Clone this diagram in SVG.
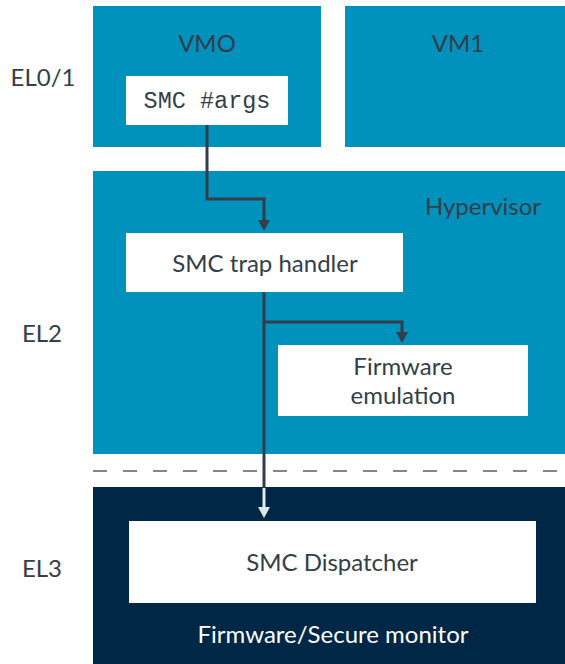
<svg xmlns="http://www.w3.org/2000/svg" width="565" height="664" viewBox="0 0 565 664">
<style>
.blue{fill:#0091bd}
.navy{fill:#002846}
.box{fill:#ffffff}
.t{font-family:Lato,"Open Sans","Liberation Sans",sans-serif;font-size:24px;fill:#333e48;text-anchor:middle}
.m{font-family:"Liberation Mono","DejaVu Sans Mono",monospace;font-size:23.5px;fill:#333e48;text-anchor:middle}
.w{fill:#ffffff}
.ln{fill:none;stroke:#333e48;stroke-width:3}
.lt{fill:none;stroke:#dfe8ea;stroke-width:3}
.hd{fill:#333e48}
.hl{fill:#dfe8ea}
</style>
<g id="labels">
<text class="t" x="43" y="86">EL0/1</text>
<text class="t" x="42" y="342">EL2</text>
<text class="t" x="42" y="577">EL3</text>
</g>
<g id="vm0">
<rect class="blue" x="93" y="6" width="228" height="141"/>
<text class="t" x="207" y="52">VMO</text>
</g>
<g id="vm1">
<rect class="blue" x="345" y="6" width="220" height="141"/>
<text class="t" x="458" y="52">VM1</text>
</g>
<g id="hypervisor">
<rect class="blue" x="93" y="171" width="472" height="283"/>
<text class="t" x="483" y="215">Hypervisor</text>
</g>
<g id="separator">
<line x1="93" y1="471" x2="565" y2="471" stroke="#55606a" stroke-width="1.5" stroke-dasharray="14,16"/>
</g>
<g id="secure-monitor">
<rect class="navy" x="93" y="487" width="472" height="177"/>
<text class="t w" x="333" y="643">Firmware/Secure monitor</text>
</g>
<g id="smc-args">
<rect class="box" x="126" y="76" width="162" height="49"/>
<text class="m" x="207" y="108">SMC #args</text>
</g>
<g id="trap-handler">
<rect class="box" x="126" y="233" width="277" height="59"/>
<text class="t" x="265" y="272">SMC trap handler</text>
</g>
<g id="fw-emulation">
<rect class="box" x="278" y="345" width="250" height="71"/>
<text class="t" x="403" y="375">Firmware</text>
<text class="t" x="403" y="404">emulation</text>
</g>
<g id="dispatcher">
<rect class="box" x="129" y="521" width="407" height="82"/>
<text class="t" x="332" y="571">SMC Dispatcher</text>
</g>
<g id="connectors">
<path class="ln" d="M207,125 V199 H264 V222"/>
<polygon class="hd" points="258,220 270,220 264,231"/>
<path class="ln" d="M264,292 V322 H402 V334"/>
<polygon class="hd" points="396,332 408,332 402,343"/>
<path class="ln" d="M264,322 V488"/>
<path class="lt" d="M264,488 V509"/>
<polygon class="hl" points="258,507 270,507 264,518"/>
</g>
</svg>
